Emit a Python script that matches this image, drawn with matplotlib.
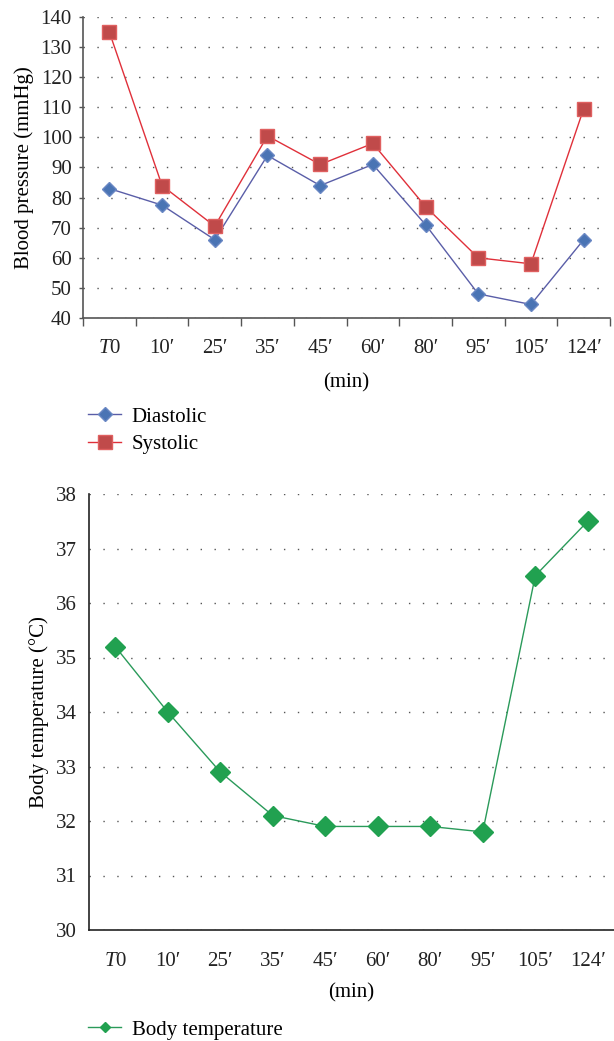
import numpy as np
import matplotlib
matplotlib.use('Agg')
import matplotlib.pyplot as plt

plt.rcParams['font.family'] = ['Liberation Serif', 'DejaVu Serif']
plt.rcParams['mathtext.fontset'] = 'custom'
plt.rcParams['mathtext.it'] = 'Liberation Serif:italic'
plt.rcParams['mathtext.rm'] = 'Liberation Serif'

# data
times = ['$T$0', '10\u2032', '25\u2032', '35\u2032', '45\u2032', '60\u2032',
         '80\u2032', '95\u2032', '105\u2032', '124\u2032']
diastolic = [83, 77.5, 66, 94, 84, 91, 71, 48, 44.5, 66]
systolic = [135, 84, 70.5, 100.5, 91, 98, 77, 60, 58, 109.5]
body_temp = [35.2, 34.0, 32.9, 32.1, 31.9, 31.9, 31.9, 31.8, 36.5, 37.5]

W, H = 614, 1041
FS = 15
fig = plt.figure(figsize=(W / 100, H / 100), dpi=100)


def px_axes(x0, y_top, x1, y_bot):
    return fig.add_axes([x0 / W, 1 - y_bot / H, (x1 - x0) / W, (y_bot - y_top) / H])


def style(ax, spine_col):
    for s in ['top', 'right']:
        ax.spines[s].set_visible(False)
    for s in ['left', 'bottom']:
        ax.spines[s].set_color(spine_col)
        ax.spines[s].set_linewidth(1.2)
    ax.yaxis.grid(True, linestyle=(0, (1, 9)), color='#555555', linewidth=1.0)
    ax.set_axisbelow(True)
    ax.tick_params(labelsize=FS, colors='#222222')


x = np.arange(len(times))

# ---- blood pressure ----
ax1 = px_axes(83, 17, 610, 318)
style(ax1, '#555555')
ax1.plot(x, diastolic, color='#5a5ea8', lw=1.0, marker='D', ms=7.5,
         mfc='#4a74b4', mec='#6a88c4', label='Diastolic', zorder=3)
ax1.plot(x, systolic, color='#e0303a', lw=1.0, marker='s', ms=9.5,
         mfc='#c04a4a', mec='#e06060', label='Systolic', zorder=3)
ax1.set_xlim(-0.5, len(times) - 0.5)
ax1.set_ylim(40, 140)
ax1.set_yticks(np.arange(40, 141, 10))
ax1.set_xticks(x)
ax1.set_xticklabels(times)
ax1.set_xticks(np.arange(-0.5, len(times), 1), minor=True)
ax1.tick_params(axis='x', which='major', length=0, pad=15)
ax1.tick_params(axis='x', which='minor', length=6, width=1.0, color='#555555')
ax1.tick_params(axis='y', length=3, width=1.0, color='#555555', pad=5)
ax1.set_xlabel('(min)', fontsize=FS, labelpad=11)
ax1.set_ylabel('Blood pressure (mmHg)', fontsize=FS, labelpad=5)
ax1.legend(loc='upper left', bbox_to_anchor=(88 / W, 1 - 407 / H),
           bbox_transform=fig.transFigure, frameon=False, fontsize=FS,
           handlelength=1.6, handletextpad=0.5, labelspacing=0.4,
           borderpad=0, borderaxespad=0)

# ---- body temperature ----
ax2 = px_axes(89, 494, 614, 930)
style(ax2, '#222222')
ax2.plot(x, body_temp, color='#2a9a5a', lw=1.0, marker='D', ms=10,
         mfc='#21a150', mec='#21a150', label='Body temperature', zorder=3)
ax2.set_xlim(-0.5, len(times) - 0.5)
ax2.set_ylim(30, 38)
ax2.set_yticks(np.arange(30, 39, 1))
ax2.set_xticks(x)
ax2.set_xticklabels(times)
ax2.tick_params(axis='x', length=0, pad=16)
ax2.tick_params(axis='y', length=0, pad=9)
ax2.set_xlabel('(min)', fontsize=FS, labelpad=9)
ax2.set_ylabel('Body temperature (\u00b0C)', fontsize=FS, labelpad=5)
ax2.legend(loc='upper left', bbox_to_anchor=(88 / W, 1 - 1020 / H),
           bbox_transform=fig.transFigure, frameon=False, fontsize=FS,
           handlelength=1.6, handletextpad=0.5, markerscale=0.55,
           borderpad=0, borderaxespad=0)

fig.savefig('out.png', dpi=100)
